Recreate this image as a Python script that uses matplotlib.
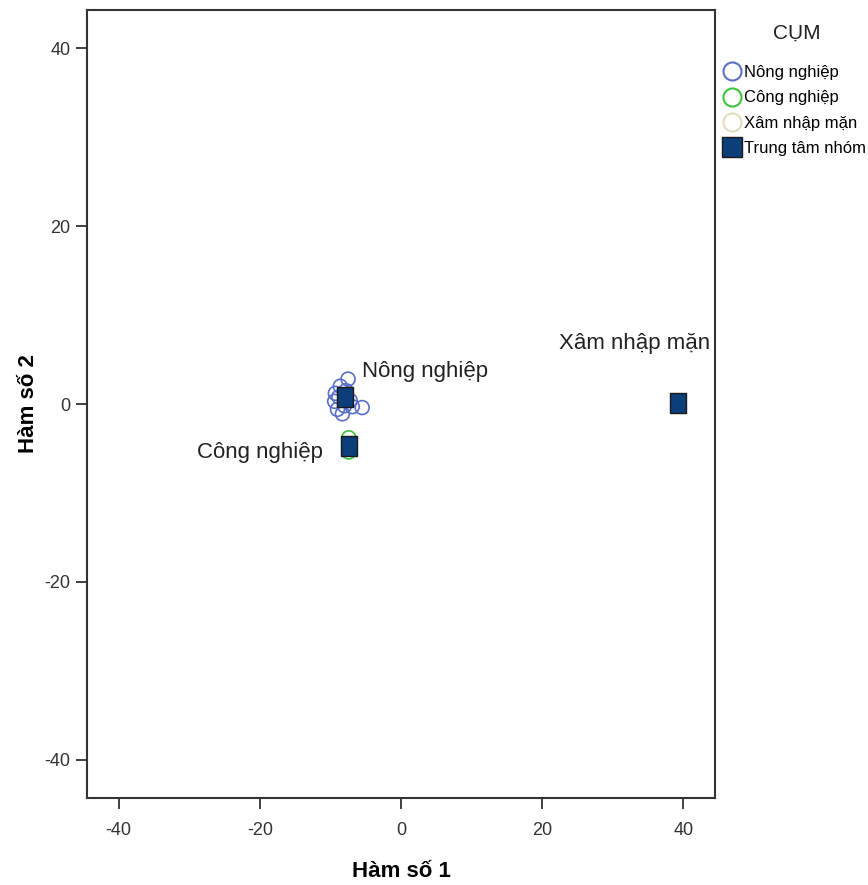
"""Biểu đồ hàm phân biệt theo cụm."""
import numpy as np
import matplotlib.pyplot as plt
from matplotlib.lines import Line2D

plt.rcParams['font.family'] = ['Liberation Sans', 'DejaVu Sans']
plt.rcParams['axes.unicode_minus'] = False

# dữ liệu
nong_x = [-7.5, -8.6, -9.3, -9.4, -9.0, -8.3, -6.9, -5.5, -7.8, -8.8, -7.2, -8.0]
nong_y = [2.8, 2.0, 1.2, 0.3, -0.6, -1.1, -0.3, -0.4, 1.5, 0.8, 0.4, -0.2]
cong_x = [-7.4, -7.4]
cong_y = [-3.8, -5.4]
xam_x = [39.2]
xam_y = [0.1]
tam_x = [-8.0, -7.4, 39.2]
tam_y = [0.8, -4.7, 0.1]
tam_ten = ["Nông nghiệp", "Công nghiệp", "Xâm nhập mặn"]
ticks = [-40, -20, 0, 20, 40]

c_nong = '#5b6fc8'
c_cong = '#3cc43c'
c_xam = '#e0dcc0'
c_tam = '#0c3f7a'

fig = plt.figure(figsize=(8.68, 8.85), dpi=100)
ax = fig.add_axes([0.1002, 0.0983, 0.7235, 0.8904])

ax.scatter(nong_x, nong_y, s=100, facecolors='none', edgecolors=c_nong, linewidths=1.2)
ax.scatter(cong_x, cong_y, s=100, facecolors='none', edgecolors=c_cong, linewidths=1.2)
ax.scatter(xam_x, xam_y, s=100, facecolors='none', edgecolors=c_xam, linewidths=1.2)
rect = [(-0.8, -1), (0.8, -1), (0.8, 1), (-0.8, 1), (-0.8, -1)]
ax.scatter(tam_x, tam_y, s=195, marker=rect, color=c_tam, edgecolors='#1a1a1a',
           linewidths=1.0, zorder=3)

# nhãn các tâm
ax.text(-5.5, 3.6, tam_ten[0], fontsize=16, color='#222222', ha='left', va='center')
ax.text(-11.0, -5.5, tam_ten[1], fontsize=16, color='#222222', ha='right', va='center')
ax.text(43.8, 6.8, tam_ten[2], fontsize=16, color='#222222', ha='right', va='center')

ax.set_xlim(-44.5, 44.5)
ax.set_ylim(-44.3, 44.3)
ax.set_xticks(ticks)
ax.set_yticks(ticks)
ax.tick_params(direction='out', length=8, width=1.3, labelsize=13, colors='#333333')
ax.tick_params(axis='x', pad=9)
ax.tick_params(axis='y', pad=4)
for s in ax.spines.values():
    s.set_linewidth(1.5)
    s.set_color('#333333')

ax.set_xlabel("Hàm số 1", fontsize=16, fontweight='bold', labelpad=16)
ax.set_ylabel("Hàm số 2", fontsize=16, fontweight='bold', labelpad=4)

# chú giải
handles = [
    Line2D([], [], ls='none', marker='o', ms=13, mfc='none', mec=c_nong, mew=1.5),
    Line2D([], [], ls='none', marker='o', ms=13, mfc='none', mec=c_cong, mew=1.5),
    Line2D([], [], ls='none', marker='o', ms=13, mfc='none', mec=c_xam, mew=1.5),
    Line2D([], [], ls='none', marker='s', ms=14, mfc=c_tam, mec='#1a1a1a', mew=1.0),
]
labels = ["Nông nghiệp", "Công nghiệp", "Xâm nhập mặn", "Trung tâm nhóm"]
fig.text(797 / 868, 1 - 33 / 885, "CỤM", fontsize=15, ha='center', va='center', color='#222222')
fig.legend(handles, labels, loc='upper left', bbox_to_anchor=(722 / 868, 1 - 65 / 885),
           frameon=False, fontsize=12, handletextpad=0.1, borderaxespad=0, borderpad=0,
           labelspacing=0.62, handlelength=1.2)

plt.savefig('out.png', dpi=100)
